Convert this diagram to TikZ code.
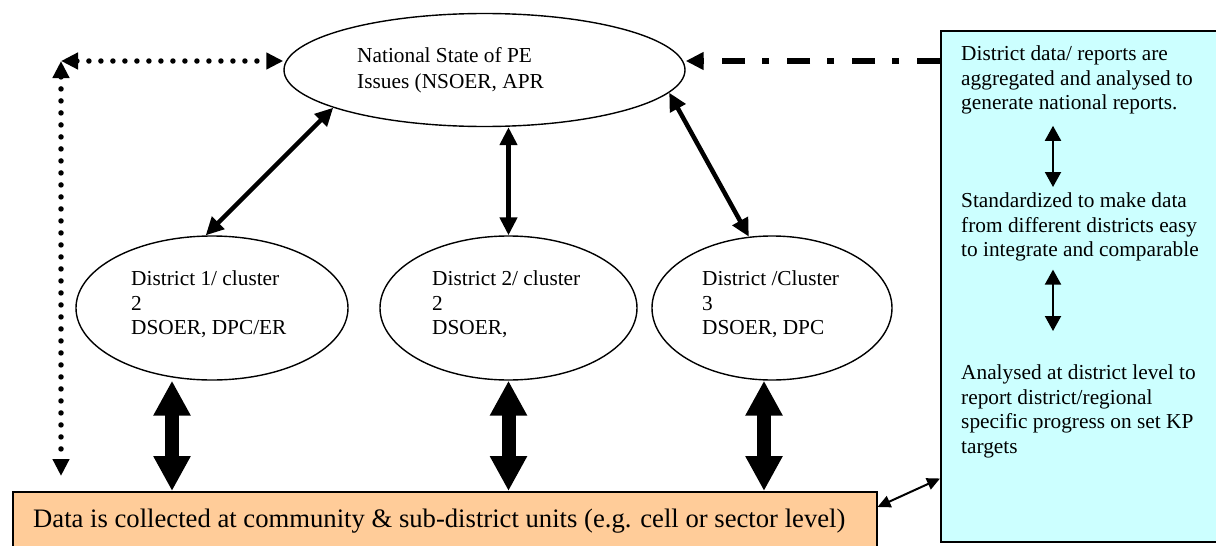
\documentclass[tikz,border=0pt]{standalone}
\usepackage{fontspec}
\setmainfont{Liberation Serif}
\usetikzlibrary{arrows.meta,shapes.geometric,calc}
\definecolor{boxcyan}{HTML}{CCFFFF}
\definecolor{boxorange}{HTML}{FFCC99}
\begin{document}
\begin{tikzpicture}[x=1pt,y=-1pt,
  txt/.style={font=\fontsize{21.33}{24.6}\selectfont, align=left, inner sep=0pt, anchor=north west},
  ell/.style={draw, ellipse, line width=1.4pt, inner sep=0pt},
  sarrow/.style={line width=4.5pt, {Triangle[length=18pt,width=17pt]}-{Triangle[length=18pt,width=17pt]}},
  dotarrow/.style={line width=5.5pt, line cap=round, dash pattern=on 0pt off 12pt, {Triangle[length=17pt,width=16pt]}-{Triangle[length=17pt,width=16pt]}},
  dasharrow/.style={line width=6pt, dash pattern=on 23pt off 18pt on 7pt off 17pt, -{Triangle[length=18pt,width=17pt]}},
  blockarrow/.style={line width=14pt, {Triangle[length=35pt,width=35pt]}-{Triangle[length=35pt,width=35pt]}},
  rarrow/.style={line width=2pt, {Triangle[length=15pt,width=16pt]}-{Triangle[length=15pt,width=16pt]}},
  barrow/.style={line width=2pt, {Triangle[length=13pt,width=12pt]}-{Triangle[length=13pt,width=12pt]}},
  panel/.style={draw, line width=1.5pt, inner sep=0pt, anchor=north west}]
\useasboundingbox (0,0) rectangle (1216,546);

% boxes
\node[panel, fill=boxcyan, minimum width=290pt, minimum height=511pt] (rb) at (940,30) {};
\node[panel, fill=boxorange, minimum width=864pt, minimum height=80pt] (base) at (12,491) {};

% ellipses
\node[ell, minimum width=401pt, minimum height=113pt] (top) at (484.5,70) {};
\node[ell, minimum width=272pt, minimum height=144pt] (d1) at (212,308) {};
\node[ell, minimum width=257pt, minimum height=144pt] (d2) at (508.5,308) {};
\node[ell, minimum width=240pt, minimum height=144pt] (d3) at (772,308) {};

% texts
\node[txt, font=\fontsize{21.33}{26}\selectfont] (toptxt) at (357,47.4) {National State of PE\\Issues (NSOER, APR};
\node[txt] (d1txt) at (131,270.4) {District 1/ cluster\\2\\DSOER, DPC/ER};
\node[txt] (d2txt) at (432,270.4) {District 2/ cluster\\2\\DSOER,};
\node[txt] (d3txt) at (702,270.4) {District /Cluster\\3\\DSOER, DPC};
\node[txt] (t1) at (961,45.4) {District data/ reports are\\aggregated and analysed to\\generate national reports.};
\node[txt] (t2) at (961,192.4) {Standardized to make data\\from different districts easy\\to integrate and comparable};
\node[txt] (t3) at (961,364.4) {Analysed at district level to\\report district/regional\\specific progress on set KP\\targets};
\node[font=\fontsize{26.66}{30}\selectfont, inner sep=0pt, anchor=base west] (btxt) at (33,527) {Data is collected at community \& sub-district units (e.g. cell or sector level)};

% dotted connectors
\coordinate (corner) at (61,61);
\draw[dotarrow] (corner) -- (corner -| top.west);
\draw[dotarrow] (corner) -- ([yshift=15pt]corner |- base.north);

% dash-dot connector
\draw[dasharrow] (corner -| rb.west) -- (corner -| top.east);

% national <-> districts
\draw[sarrow] (d1.95) -- (top.194);
\draw[sarrow] (d2.north) -- (d2.north |- top.south);
\draw[sarrow] (d3.108) -- (top.-7.5);

% districts <-> base
\draw[blockarrow] ([xshift=-40pt]d1.south) -- ([xshift=-40pt]d1.south |- base.north);
\draw[blockarrow] (d2.south) -- (d2.south |- base.north);
\draw[blockarrow] ([xshift=-8pt]d3.south) -- ([xshift=-8pt]d3.south |- base.north);

% right panel arrows
\coordinate (ax) at (1053,0);
\draw[rarrow] ($(t1.south -| ax)+(0,11.4)$) -- ($(t2.north -| ax)+(0,-5.4)$);
\draw[rarrow] ($(t2.south -| ax)+(0,8.2)$) -- ($(t3.north -| ax)+(0,-33.4)$);

% base <-> right panel
\draw[barrow] ([yshift=-16pt]base.north east) -- ([yshift=64pt]rb.south west);
\end{tikzpicture}
\end{document}
